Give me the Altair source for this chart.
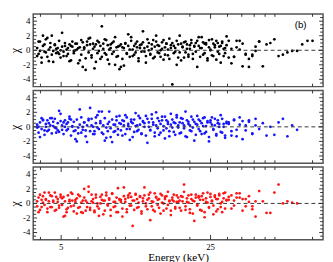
import altair as alt
import pandas as pd

# Energy grid (keV) shared by the three residual panels
energy = [
    3.86, 3.92, 3.98, 4.05, 4.11, 4.18, 4.24, 4.31, 4.38, 4.45,
    4.52, 4.59, 4.67, 4.74, 4.82, 4.89, 4.97, 5.05, 5.13, 5.21,
    5.30, 5.38, 5.47, 5.56, 5.64, 5.73, 5.83, 5.92, 6.01, 6.11,
    6.21, 6.31, 6.41, 6.51, 6.61, 6.72, 6.83, 6.94, 7.05, 7.16,
    7.27, 7.39, 7.51, 7.63, 7.75, 7.87, 8.00, 8.13, 8.26, 8.39,
    8.52, 8.66, 8.80, 8.94, 9.08, 9.22, 9.37, 9.52, 9.67, 9.83,
    9.98, 10.14, 10.30, 10.47, 10.63, 10.80, 10.98, 11.15, 11.33, 11.51,
    11.69, 11.88, 12.07, 12.26, 12.46, 12.66, 12.86, 13.06, 13.27, 13.48,
    13.70, 13.91, 14.14, 14.36, 14.59, 14.82, 15.06, 15.30, 15.54, 15.79,
    16.04, 16.30, 16.56, 16.82, 17.09, 17.36, 17.64, 17.92, 18.20, 18.49,
    18.79, 19.09, 19.39, 19.70, 20.01, 20.33, 20.66, 20.98, 21.32, 21.66,
    22.00, 22.35, 22.71, 23.07, 23.44, 23.81, 24.19, 24.58, 24.97, 25.37,
    25.77, 26.18, 26.60, 27.02, 27.45, 27.89, 28.33, 28.78, 29.24, 29.71,
    30.4, 31.3, 32.2, 33.1, 34.2, 35.3, 36.5, 37.8, 39.2, 40.6,
    42.2, 43.9, 45.7, 47.6, 49.7, 52.0, 54.5, 57.2, 60.2, 63.5,
    67.1, 71.0, 75.0,
]

# Panel 1 (black) residuals, two detectors
chi1_a = [
    -0.8, 1.2, -0.1, -1.7, 2.0, 0.8, -0.3, 1.7, -1.5, 0.4, 2.0, -0.1, 0.8, -0.4, 0.3, -0.5, 0.0,
    2.4, -0.8, 0.6, 0.1, -0.5, 0.8, -1.4, 0.5, -0.1, 0.9, 0.1, 0.3, -1.4, 1.4, -2.3, 0.4, -2.7, 1.2,
    1.6, 0.8, -1.0, 0.9, -2.5, 0.8, -0.4, 1.1, -1.2, 3.3, 0.2, 1.5, -0.6, 0.7, -1.9, 0.3, 1.0, -0.2,
    1.8, -0.9, 0.5, -2.6,
    -2.3, 0.4, -2.1, 0.9, -0.5, 2.2, 0.1, 1.8, -0.8, 0.6, -0.3, 1.2, -1.1, 0.3, 0.8, 2.6, -0.2, -1.7,
    0.5, 1.0, -0.6, 0.2, 1.4, -0.9, 2.0, 0.7, -0.4, 0.0, 1.1, -1.3, 0.4, 0.9, -0.7, 1.6, 0.3, -4.7,
    0.6, -0.2, 1.3, -1.0,
    2.0, -1.4, 0.5, 1.1, -0.3, 0.8, -0.9, 0.2, 1.4, -0.5, 0.6, 1.0, -2.3, 1.8, 0.3, 1.8, -0.6, 0.9,
    1.0, -1.4, 0.4, 0.1, 1.5, -0.8, 0.7, 1.3, -0.2, 0.5, -1.7, 1.0, 0.2, -0.4, 1.9,
    1.3, -1.8, -0.9, 0.4, 1.3, -2.2, -0.6, -2.3, -0.8, -0.1, 1.2, -2.2, 0.8, 1.0, 1.5, -0.8, -0.6,
    -0.3, -0.1, -0.1, 0.8, 1.3, 1.3,
]
chi1_b = [
    0.3, -0.5, 1.2, -1.0, 0.6, -0.2, 1.5, -0.9, 0.1, 1.0, -0.6, -1.6, 0.7, 0.2, -0.3, 1.3, -1.0,
    0.5, -0.2, 1.0, -0.8, 0.3, -1.5, 0.6, 1.2, -0.4, 0.0, 0.9, -1.8, 0.4, -0.6, 1.1, 0.2, -1.1, 0.7,
    -0.3, 1.7, -0.7, 0.2, 0.5, -1.6, 1.3, -0.1, 0.6, -0.9, 0.9, -0.4, 1.4, -1.3, 0.1, 0.8, -0.5, 1.2,
    -2.0, 0.4, -0.8, 0.6,
    0.8, -1.2, 0.3, 1.0, -0.4, 0.6, -0.9, 1.3, 0.1, -0.6, 0.9, 0.4, -1.5, 0.7, -0.2, 1.1, 0.3, -0.8,
    1.5, 0.0, -0.5, 0.8, -1.1, 0.5, 1.2, -0.3, 0.6, -0.9, 0.2, 1.4, -0.6, 0.9, 0.1, -1.2, 0.7, 1.0,
    -0.4, 0.3, -2.0, 0.8,
    -0.3, 0.9, 0.4, -1.0, 1.2, 0.2, -0.6, 0.7, 1.0, -1.2, 0.5, -0.2, 1.3, 0.6, -0.9, 0.3, 1.1, -0.4,
    0.8, -1.1, 1.4, 0.0, -0.7, 0.9, 0.4, -1.3, 1.0, -0.5, 0.6, 1.2, -0.8, 0.3, 0.7,
    -1.0, 0.2, -0.9, 1.3, 0.1, 0.9, -0.5, -1.2, -0.6, 0.5, 1.2,
]

# Panel 2 (blue)
chi2_a = [
    -0.1, 0.0, -1.4, 1.2, 0.9, -0.5, 0.0, -0.6, 0.5, 1.2, 1.2, 0.1, -0.1, -0.8, -0.5, 2.2, 1.8,
    -0.4, 0.6, 0.0, -0.5, 0.6, 1.1, 1.0, 0.0, -0.6, -1.7, -2.0, -0.1, 2.4, -0.8, 0.0, 0.6, -0.5, -2.1,
    1.1, 2.6, 0.2, -1.0, -0.6, 1.3, -0.1, 2.1, 0.5, 2.1, -1.0, -1.9, -0.1, -0.6, 2.1, -1.4, -2.1, 0.3,
    -0.6, 0.9, -0.3, 1.5,
    0.4, -1.2, 0.8, 1.6, -0.3, 0.1, -1.8, 1.0, 0.5, -0.7, 1.9, 0.2, -0.4, 1.2, -1.0, 0.7, 0.0, 1.5,
    -2.2, 0.6, -0.5, 1.1, 0.3, -1.3, 2.0, -0.2, 0.8, -0.8, 1.4, 0.1, -1.6, 0.9, 0.4, -0.6, 1.8, -0.1,
    0.6, -1.1, 1.3, 0.2,
    -0.9, 1.2, 0.5, -0.2, 2.1, -1.4, 0.7, 0.2, -0.6, 1.0, -1.9, 0.4, 1.5, -0.3, 0.8, -1.0, 0.1, 1.3,
    -0.7, 0.6, -2.0, 0.9, 0.3, -0.4, 1.1, -1.2, 0.5, 0.0, 1.6, -0.8, 0.4, -1.5, 0.7,
    0.6, -1.2, 0.9, -0.4, 1.3, -1.7, 0.2, 0.7, -0.9, 1.1, -0.3, 0.5, -1.2, 0.0, -1.1, 0.6, 1.1, -1.3,
    0.2, -0.4,
]
chi2_b = [
    0.3, -0.8, 0.6, -0.3, 1.0, -1.1, 0.4, 0.9, -0.4, 0.2, -0.9, 0.7, 1.1, -0.2, 0.5, -0.7, 0.8,
    0.2, -1.0, 0.9, 0.4, -0.3, 1.4, -1.2, 0.1, 0.7, -0.5, 1.0, -0.9, 0.3, 1.3, -0.4, 0.6, -1.3, 0.2,
    0.9, -0.6, 1.1, 0.0, -1.0, 0.5, 1.6, -0.3, 0.8, -0.8, 0.2, 1.2, -1.5, 0.4, 0.7, -0.2, 1.0, -0.7,
    0.3, 1.4, -1.1, 0.5,
    -0.5, 0.9, 0.2, -1.0, 1.3, 0.4, -0.3, 0.7, -1.4, 1.0, 0.1, -0.6, 1.5, 0.3, -0.9, 0.8, 0.5, -1.2,
    1.1, 0.0, -0.4, 1.7, 0.6, -0.8, 0.2, 1.2, -1.1, 0.4, 0.9, -0.5, 1.4, -0.2, 0.7, -1.3, 0.3, 1.0,
    -0.7, 0.5, 1.6, -0.1,
    0.6, -0.8, 1.1, 0.2, -1.3, 0.9, 0.4, -0.5, 1.4, -0.1, 0.7, -1.1, 0.3, 1.0, -0.6, 0.5, 1.2, -0.9,
    0.1, 0.8, -1.4, 0.6, 1.3, -0.3, 0.2, -1.0, 0.9, 0.4, -0.7, 1.1, 0.0, -1.2, 0.5,
    0.4, -0.6, 1.0, -1.3, 0.3, 0.8, -0.5, 0.9, -1.0, 0.2,
]

# Panel 3 (red)
chi3_a = [
    0.3, -1.2, 1.2, -0.5, 0.1, 1.5, 0.5, -1.2, 1.5, -0.5, 1.0, 0.2, 1.5, -0.9, 0.6, -0.3, 0.9,
    0.7, -1.8, -1.7, -1.2, -0.6, 0.3, 1.5, 0.4, -0.3, 0.5, -1.4, 1.2, -0.5, -1.2, 0.4, 2.0, -1.0, 0.1,
    2.3, -0.6, 1.2, 0.1, -1.2, 0.8, -0.4, -1.7, 0.0, 1.2, 0.4, -1.0, 1.5, -0.1, 0.5, -1.7, 1.4, -0.5,
    0.2, -1.2, 2.1, 0.5,
    0.2, -1.8, 2.2, 0.6, -0.8, 1.1, -0.3, 0.9, -3.1, 0.4, 1.3, -0.6, 0.1, 1.0, -1.1, 0.7, 2.2, -0.4,
    0.5, 1.2, -2.3, 0.3, -0.9, 1.4, 0.8, -0.2, 0.6, -1.4, 1.1, 0.0, 0.9, -0.7, 1.6, 0.3, -1.0, 0.5,
    1.2, -0.5, 0.2, 0.8,
    -0.6, 1.0, 0.3, 2.6, -0.9, 0.7, 0.1, -1.3, 1.2, 0.4, -2.4, 0.8, -0.3, 1.0, 0.5, -1.0, 1.4, -1.9,
    0.2, 1.5, -0.5, 0.9, 0.3, -1.5, 1.1, 0.6, -0.8, 1.3, 0.0, -1.2, 0.7, 1.5, 0.4,
    0.9, -0.7, 0.4, 1.4, 0.8, -1.0, 0.6, 0.2, -0.4, -1.8, 1.7, 0.3, -1.3, -1.3, 1.5, 2.6, 0.0, 0.3,
    0.1, 0.0,
]
chi3_b = [
    -0.4, 0.8, -0.9, 0.5, 1.0, -0.2, 0.6, -0.7, 0.3, 1.1, -0.5, 0.4, -1.0, 0.9, 0.2, -0.6, 1.2,
    -0.2, 0.9, 0.3, -0.8, 1.1, 0.5, -0.4, 1.3, -1.1, 0.2, 0.7, -0.6, 1.0, 0.1, -1.3, 0.8, 0.4, -0.5,
    1.6, -0.9, 0.3, 0.6, -1.0, 1.2, 0.0, -0.7, 0.9, 0.5, -1.5, 0.4, 1.1, -0.3, 0.7, -0.9, 1.3, 0.2,
    -0.4, 0.8, -1.2, 0.6,
    0.5, -0.7, 1.0, 0.2, -1.2, 0.8, 1.4, -0.3, 0.4, -0.9, 1.2, 0.6, -0.5, 0.9, -1.4, 0.3, 1.1, 0.0,
    -0.8, 0.7, 1.5, -0.4, 0.2, -1.1, 0.9, 0.5, -0.6, 1.3, 0.1, -1.0, 0.6, 1.0, -0.2, 0.4, -1.6, 0.8,
    0.3, -0.7, 1.1, 0.2,
    0.4, -1.0, 0.9, 1.6, -0.4, 0.2, 1.1, -0.8, 0.6, -1.4, 0.3, 1.2, -0.2, 0.8, -0.9, 1.0, 0.5, -1.2,
    0.7, 0.1, -0.6, 1.3, 0.4, -0.3, 0.9, -1.1, 0.6, 1.1, -0.5, 0.2, 1.4, -0.7, 0.5,
    0.5, 1.1, -0.3, 0.8, 1.4, 0.6, -0.4, 1.0, -0.8, 0.3,
]

for s in (chi1_a, chi1_b, chi2_a, chi2_b, chi3_a, chi3_b):
    assert 130 <= len(s) <= len(energy), len(s)

x_ticks = [4, 5, 6, 7, 8, 9, 10, 15, 20, 25, 30, 35, 40, 45, 50, 75]
x_labelled = [5, 25]
y_ticks = [-4.5, -4, -3.5, -3, -2.5, -2, -1.5, -1, -0.5, 0, 0.5, 1, 1.5, 2, 2.5, 3, 3.5, 4, 4.5]
y_labelled = [-4, -2, 0, 2, 4]
x_domain = [3.7, 84]
y_domain = [-5, 5]
colors = ["#000000", "#1515ff", "#ff1515"]

SERIF = "Liberation Serif"
W, H = 299, 75
TICK_COL = "#333333"


def frame(chi_a, chi_b):
    rows = [{"E": e, "chi": c, "det": "A"} for e, c in zip(energy, chi_a)]
    rows += [{"E": e, "chi": c, "det": "B"} for e, c in zip(energy, chi_b)]
    return pd.DataFrame(rows)


# tick tables (inward ticks on all four sides); tick lengths converted to data units
ylen = {True: (y_domain[1] - y_domain[0]) * 5 / H, False: (y_domain[1] - y_domain[0]) * 3 / H}
xfac = {True: (x_domain[1] / x_domain[0]) ** (4 / W), False: (x_domain[1] / x_domain[0]) ** (3 / W)}

xt_rows = []
for v in x_ticks:
    m = v in x_labelled
    xt_rows.append({"E": v, "chi": y_domain[0], "chi2": y_domain[0] + ylen[m]})
    xt_rows.append({"E": v, "chi": y_domain[1], "chi2": y_domain[1] - ylen[m]})
xt = pd.DataFrame(xt_rows)

yt_rows = []
for v in y_ticks:
    m = v in y_labelled
    yt_rows.append({"chi": v, "E": x_domain[0], "E2": x_domain[0] * xfac[m]})
    yt_rows.append({"chi": v, "E": x_domain[1], "E2": x_domain[1] / xfac[m]})
yt = pd.DataFrame(yt_rows)

zero_df = pd.DataFrame({"E": [x_domain[0]], "E2": [x_domain[1]], "chi": [0.0]})
ylab_df = pd.DataFrame({"chi": y_labelled, "E": [x_domain[0]] * len(y_labelled),
                        "lab": [str(v) for v in y_labelled]})
xlab_df = pd.DataFrame({"E": x_labelled, "chi": [y_domain[0]] * len(x_labelled),
                        "lab": [str(v) for v in x_labelled]})


def panel(chi_a, chi_b, color, bottom=False, tag=None):
    xs = alt.Scale(type="log", domain=x_domain, nice=False)
    ys = alt.Scale(domain=y_domain, nice=False, zero=False)
    if bottom:
        x_axis = alt.Axis(
            ticks=False, labels=False, domain=False, grid=False,
            title="Energy (keV)", titleFont=SERIF, titleFontSize=11.5, titleFontWeight="normal",
            titleColor="#000", titlePadding=12,
        )
    else:
        x_axis = None
    y_axis = alt.Axis(
        ticks=False, labels=False, domain=False, grid=False,
        title="χ", titleFont=SERIF, titleFontSize=12, titleFontWeight="normal",
        titleColor="#000", titlePadding=12,
    )
    pts = alt.Chart(frame(chi_a, chi_b)).mark_circle(size=8, opacity=1, color=color).encode(
        x=alt.X("E:Q", scale=xs, axis=x_axis),
        y=alt.Y("chi:Q", scale=ys, axis=y_axis),
    )
    zero = alt.Chart(zero_df).mark_rule(strokeDash=[4, 3], color="#333", strokeWidth=1).encode(
        x="E:Q", x2="E2:Q", y="chi:Q",
    )
    tick_style = dict(color=TICK_COL, strokeWidth=1)
    txs = alt.Chart(xt).mark_rule(**tick_style).encode(x="E:Q", y="chi:Q", y2="chi2:Q")
    tys = alt.Chart(yt).mark_rule(**tick_style).encode(y="chi:Q", x="E:Q", x2="E2:Q")
    ylab = alt.Chart(ylab_df).mark_text(
        font=SERIF, fontSize=9, color="#000", align="right", baseline="middle", dx=-3, clip=False
    ).encode(x="E:Q", y="chi:Q", text="lab:N")
    layers = [pts, zero, txs, tys, ylab]
    if bottom:
        xlab = alt.Chart(xlab_df).mark_text(
            font=SERIF, fontSize=9, color="#000", align="center", baseline="middle", dy=8, clip=False
        ).encode(x="E:Q", y="chi:Q", text="lab:N")
        layers.append(xlab)
    if tag:
        t = alt.Chart(pd.DataFrame({"E": [66.0], "chi": [3.5], "t": [tag]})).mark_text(
            font="Liberation Sans", fontSize=10, color="#000"
        ).encode(x="E:Q", y="chi:Q", text="t:N")
        layers.append(t)
    return alt.layer(*layers).properties(width=W, height=H)


chart = alt.vconcat(
    panel(chi1_a, chi1_b, colors[0], tag="(b)"),
    panel(chi2_a, chi2_b, colors[1]),
    panel(chi3_a, chi3_b, colors[2], bottom=True),
    spacing=0,
).properties(
    padding=0
).configure_view(
    stroke="#555", strokeWidth=1.5
).configure_concat(spacing=0)

chart.save("out.html", embed_options={"renderer": "svg", "actions": False})
